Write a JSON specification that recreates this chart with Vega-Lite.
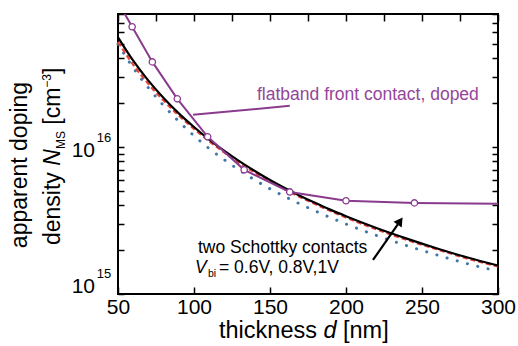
{
  "$schema": "https://vega.github.io/schema/vega-lite/v6.json",
  "width": 380,
  "height": 280,
  "autosize": "none",
  "padding": {"left": 118, "top": 14, "right": 20, "bottom": 52},
  "background": "white",
  "config": {
    "view": {"stroke": "#000", "strokeWidth": 2},
    "font": "Liberation Sans",
    "axis": {"domain": false, "grid": false, "tickColor": "#000", "tickWidth": 1.5, "labelFont": "Liberation Sans", "labelFontSize": 21, "labelColor": "#000"},
    "text": {"font": "Liberation Sans", "color": "#000", "baseline": "alphabetic", "align": "left"}
  },
  "datasets": {
    "curves": [
      {"d": 50, "N": 5.55e16, "s": "black"}, {"d": 60, "N": 3.85e16, "s": "black"}, {"d": 70, "N": 2.82e16, "s": "black"},
      {"d": 80, "N": 2.15e16, "s": "black"}, {"d": 90, "N": 1.69e16, "s": "black"}, {"d": 100, "N": 1.365e16, "s": "black"},
      {"d": 110, "N": 1.12e16, "s": "black"}, {"d": 120, "N": 9.38e15, "s": "black"}, {"d": 130, "N": 7.96e15, "s": "black"},
      {"d": 140, "N": 6.85e15, "s": "black"}, {"d": 150, "N": 5.95e15, "s": "black"}, {"d": 160, "N": 5.23e15, "s": "black"},
      {"d": 170, "N": 4.64e15, "s": "black"}, {"d": 180, "N": 4.15e15, "s": "black"}, {"d": 190, "N": 3.73e15, "s": "black"},
      {"d": 200, "N": 3.38e15, "s": "black"}, {"d": 220, "N": 2.81e15, "s": "black"}, {"d": 240, "N": 2.38e15, "s": "black"},
      {"d": 260, "N": 2.04e15, "s": "black"}, {"d": 280, "N": 1.77e15, "s": "black"}, {"d": 300, "N": 1.56e15, "s": "black"},
      {"d": 50, "N": 5.16e16, "s": "red"}, {"d": 60, "N": 3.62e16, "s": "red"}, {"d": 70, "N": 2.68e16, "s": "red"},
      {"d": 80, "N": 2.064e16, "s": "red"}, {"d": 90, "N": 1.631e16, "s": "red"}, {"d": 100, "N": 1.324e16, "s": "red"},
      {"d": 110, "N": 1.092e16, "s": "red"}, {"d": 120, "N": 9.15e15, "s": "red"}, {"d": 130, "N": 7.76e15, "s": "red"},
      {"d": 140, "N": 6.68e15, "s": "red"}, {"d": 150, "N": 5.83e15, "s": "red"}, {"d": 160, "N": 5.13e15, "s": "red"},
      {"d": 170, "N": 4.55e15, "s": "red"}, {"d": 180, "N": 4.07e15, "s": "red"}, {"d": 190, "N": 3.66e15, "s": "red"},
      {"d": 200, "N": 3.31e15, "s": "red"}, {"d": 220, "N": 2.75e15, "s": "red"}, {"d": 240, "N": 2.33e15, "s": "red"},
      {"d": 260, "N": 2.01e15, "s": "red"}, {"d": 280, "N": 1.74e15, "s": "red"}, {"d": 300, "N": 1.54e15, "s": "red"},
      {"d": 50, "N": 5.0e16, "s": "blue"}, {"d": 60, "N": 3.45e16, "s": "blue"}, {"d": 70, "N": 2.52e16, "s": "blue"},
      {"d": 80, "N": 1.91e16, "s": "blue"}, {"d": 90, "N": 1.49e16, "s": "blue"}, {"d": 100, "N": 1.19e16, "s": "blue"},
      {"d": 110, "N": 9.74e15, "s": "blue"}, {"d": 120, "N": 8.16e15, "s": "blue"}, {"d": 130, "N": 6.93e15, "s": "blue"},
      {"d": 140, "N": 5.96e15, "s": "blue"}, {"d": 150, "N": 5.19e15, "s": "blue"}, {"d": 160, "N": 4.58e15, "s": "blue"},
      {"d": 170, "N": 4.08e15, "s": "blue"}, {"d": 180, "N": 3.66e15, "s": "blue"}, {"d": 190, "N": 3.30e15, "s": "blue"},
      {"d": 200, "N": 2.99e15, "s": "blue"}, {"d": 220, "N": 2.50e15, "s": "blue"}, {"d": 240, "N": 2.13e15, "s": "blue"},
      {"d": 260, "N": 1.84e15, "s": "blue"}, {"d": 280, "N": 1.605e15, "s": "blue"}, {"d": 300, "N": 1.43e15, "s": "blue"}
    ],
    "flat": [
      {"d": 48.4, "N": 1.03e17}, {"d": 59.3, "N": 6.55e16}, {"d": 72.6, "N": 3.78e16}, {"d": 89, "N": 2.12e16},
      {"d": 109, "N": 1.17e16}, {"d": 133, "N": 6.98e15}, {"d": 163, "N": 4.94e15}, {"d": 200, "N": 4.30e15},
      {"d": 245, "N": 4.16e15}, {"d": 300, "N": 4.10e15}
    ]
  },
  "layer": [
    {
      "layer": [
        {
          "data": {"name": "curves"},
          "transform": [{"filter": "datum.s === 'blue'"}],
          "mark": {"type": "line", "color": "#3f78a8", "strokeWidth": 3, "strokeDash": [0.1, 10.5], "strokeCap": "round", "interpolate": "monotone"},
          "encoding": {
            "x": {"field": "d", "type": "quantitative", "title": null,
                  "scale": {"domain": [50, 300], "nice": false, "zero": false},
                  "axis": {"orient": "bottom", "values": [50, 75, 100, 125, 150, 175, 200, 225, 250, 275, 300], "labelExpr": "datum.value % 50 === 0 ? datum.label : ''", "tickSize": -7, "labelPadding": 9, "labelFlush": false}},
            "y": {"field": "N", "type": "quantitative", "title": null,
                  "scale": {"type": "log", "domain": [1e15, 8e16], "nice": false},
                  "axis": {"orient": "left", "labels": false, "values": [1e15, 2e15, 3e15, 4e15, 5e15, 6e15, 7e15, 8e15, 9e15, 1e16, 2e16, 3e16, 4e16, 5e16, 6e16, 7e16, 8e16], "tickSize": -6}}
          }
        },
        {
          "data": {"name": "curves"},
          "transform": [{"filter": "datum.s === 'red'"}],
          "mark": {"type": "line", "color": "#e5423a", "strokeWidth": 2.2, "strokeDash": [5, 3], "interpolate": "monotone"},
          "encoding": {"x": {"field": "d", "type": "quantitative"}, "y": {"field": "N", "type": "quantitative"}}
        },
        {
          "data": {"name": "curves"},
          "transform": [{"filter": "datum.s === 'black'"}],
          "mark": {"type": "line", "color": "#000", "strokeWidth": 2.2, "interpolate": "monotone"},
          "encoding": {"x": {"field": "d", "type": "quantitative"}, "y": {"field": "N", "type": "quantitative"}}
        },
        {
          "data": {"name": "flat"},
          "mark": {"type": "line", "color": "#8a3b8e", "strokeWidth": 2, "clip": true},
          "encoding": {"x": {"field": "d", "type": "quantitative"}, "y": {"field": "N", "type": "quantitative"}}
        },
        {
          "data": {"name": "flat"},
          "transform": [{"filter": "datum.d > 55 && datum.d < 299"}],
          "mark": {"type": "point", "shape": "circle", "filled": true, "fill": "white", "stroke": "#8a3b8e", "strokeWidth": 1.3, "size": 40, "opacity": 1},
          "encoding": {"x": {"field": "d", "type": "quantitative"}, "y": {"field": "N", "type": "quantitative"}}
        },
        {
          "data": {"values": [{}]},
          "layer": [
            {
              "mark": {"type": "rule", "color": "#8a3b8e", "strokeWidth": 2},
              "encoding": {"x": {"datum": 99.34, "type": "quantitative"}, "y": {"datum": 1.651e16, "type": "quantitative"},
                           "x2": {"datum": 163}, "y2": {"datum": 1.90e16}}
            },
            {
              "mark": {"type": "text", "text": "flatband front contact, doped", "fontSize": 17.5, "color": "#94469a"},
              "encoding": {"x": {"datum": 141.45, "type": "quantitative"}, "y": {"datum": 2.088e16, "type": "quantitative"}}
            },
            {
              "mark": {"type": "text", "text": "two Schottky contacts", "fontSize": 17.5},
              "encoding": {"x": {"datum": 102.63, "type": "quantitative"}, "y": {"datum": 1.9e15, "type": "quantitative"}}
            },
            {
              "mark": {"type": "text", "text": "V", "fontSize": 17.5, "fontStyle": "italic"},
              "encoding": {"x": {"datum": 100.66, "type": "quantitative"}, "y": {"datum": 1.379e15, "type": "quantitative"}}
            },
            {
              "mark": {"type": "text", "text": "bi", "fontSize": 10.5, "dx": 13, "dy": 3.5},
              "encoding": {"x": {"datum": 100.66, "type": "quantitative"}, "y": {"datum": 1.379e15, "type": "quantitative"}}
            },
            {
              "mark": {"type": "text", "text": "= 0.6V, 0.8V,1V", "fontSize": 17.5, "dx": 24},
              "encoding": {"x": {"datum": 100.66, "type": "quantitative"}, "y": {"datum": 1.379e15, "type": "quantitative"}}
            },
            {
              "mark": {"type": "rule", "color": "#000", "strokeWidth": 2.2},
              "encoding": {"x": {"datum": 217.76, "type": "quantitative"}, "y": {"datum": 1.703e15, "type": "quantitative"},
                           "x2": {"datum": 234.2}, "y2": {"datum": 2.99e15}}
            },
            {
              "mark": {"type": "point", "shape": "triangle-up", "filled": true, "color": "#000", "size": 100, "angle": 35, "opacity": 1},
              "encoding": {"x": {"datum": 235.59, "type": "quantitative"}, "y": {"datum": 3.132e15, "type": "quantitative"}}
            },
            {
              "mark": {"type": "text", "text": "10", "fontSize": 21, "align": "right", "dx": -23, "dy": 10},
              "encoding": {"x": {"datum": 50, "type": "quantitative"}, "y": {"datum": 1e16, "type": "quantitative"}}
            },
            {
              "mark": {"type": "text", "text": "16", "fontSize": 13, "dx": -21.3, "dy": -5},
              "encoding": {"x": {"datum": 50, "type": "quantitative"}, "y": {"datum": 1e16, "type": "quantitative"}}
            },
            {
              "mark": {"type": "text", "text": "10", "fontSize": 21, "align": "right", "dx": -23, "dy": -1},
              "encoding": {"x": {"datum": 50, "type": "quantitative"}, "y": {"datum": 1e15, "type": "quantitative"}}
            },
            {
              "mark": {"type": "text", "text": "15", "fontSize": 13, "dx": -21.3, "dy": -15.7},
              "encoding": {"x": {"datum": 50, "type": "quantitative"}, "y": {"datum": 1e15, "type": "quantitative"}}
            },
            {
              "mark": {"type": "text", "text": "apparent doping", "fontSize": 23, "angle": 270, "align": "center", "dx": 129, "dy": -91},
              "encoding": {"x": {"datum": 50, "type": "quantitative"}, "y": {"datum": 1e15, "type": "quantitative"}}
            },
            {
              "mark": {"type": "text", "text": "density", "fontSize": 23, "angle": 270, "dx": 49, "dy": -58},
              "encoding": {"x": {"datum": 50, "type": "quantitative"}, "y": {"datum": 1e15, "type": "quantitative"}}
            },
            {
              "mark": {"type": "text", "text": "N", "fontSize": 23, "fontStyle": "italic", "angle": 270, "dx": 128.3, "dy": -58},
              "encoding": {"x": {"datum": 50, "type": "quantitative"}, "y": {"datum": 1e15, "type": "quantitative"}}
            },
            {
              "mark": {"type": "text", "text": "MS", "fontSize": 12, "angle": 270, "dx": 144.9, "dy": -53},
              "encoding": {"x": {"datum": 50, "type": "quantitative"}, "y": {"datum": 1e15, "type": "quantitative"}}
            },
            {
              "mark": {"type": "text", "text": "[cm", "fontSize": 23, "angle": 270, "dx": 169.3, "dy": -58},
              "encoding": {"x": {"datum": 50, "type": "quantitative"}, "y": {"datum": 1e15, "type": "quantitative"}}
            },
            {
              "mark": {"type": "text", "text": "−3", "fontSize": 12, "angle": 270, "dx": 206.3, "dy": -67},
              "encoding": {"x": {"datum": 50, "type": "quantitative"}, "y": {"datum": 1e15, "type": "quantitative"}}
            },
            {
              "mark": {"type": "text", "text": "]", "fontSize": 23, "angle": 270, "dx": 220, "dy": -58},
              "encoding": {"x": {"datum": 50, "type": "quantitative"}, "y": {"datum": 1e15, "type": "quantitative"}}
            },
            {
              "mark": {"type": "text", "text": "thickness", "fontSize": 23.5, "dx": 101, "dy": 44},
              "encoding": {"x": {"datum": 50, "type": "quantitative"}, "y": {"datum": 1e15, "type": "quantitative"}}
            },
            {
              "mark": {"type": "text", "text": "d", "fontSize": 23.5, "fontStyle": "italic", "dx": 205.4, "dy": 44},
              "encoding": {"x": {"datum": 50, "type": "quantitative"}, "y": {"datum": 1e15, "type": "quantitative"}}
            },
            {
              "mark": {"type": "text", "text": "[nm]", "fontSize": 23.5, "dx": 225, "dy": 44},
              "encoding": {"x": {"datum": 50, "type": "quantitative"}, "y": {"datum": 1e15, "type": "quantitative"}}
            }
          ]
        }
      ]
    },
    {
      "data": {"name": "flat"},
      "mark": {"type": "point", "opacity": 0},
      "encoding": {
        "x": {"field": "d", "type": "quantitative", "title": null,
              "scale": {"domain": [50, 300], "nice": false, "zero": false},
              "axis": {"orient": "top", "labels": false, "values": [50, 75, 100, 125, 150, 175, 200, 225, 250, 275, 300], "tickSize": -7}},
        "y": {"field": "N", "type": "quantitative", "title": null,
              "scale": {"type": "log", "domain": [1e15, 8e16], "nice": false},
              "axis": {"orient": "right", "labels": false, "values": [1e15, 2e15, 3e15, 4e15, 5e15, 6e15, 7e15, 8e15, 9e15, 1e16, 2e16, 3e16, 4e16, 5e16, 6e16, 7e16, 8e16], "tickSize": -6}}
      }
    }
  ],
  "resolve": {"axis": {"x": "independent", "y": "independent"}}
}
